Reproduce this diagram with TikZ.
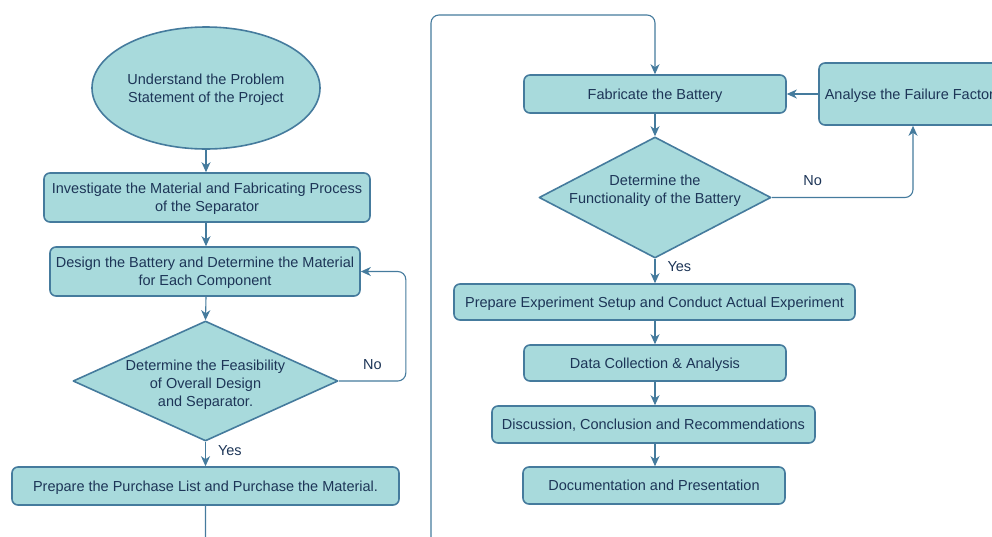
\documentclass[tikz,border=0pt]{standalone}
\usepackage{fontspec}
\setmainfont{Liberation Sans}
\usetikzlibrary{arrows.meta,shapes.geometric}

\definecolor{boxfill}{HTML}{A8DADC}
\definecolor{boxline}{HTML}{457B9D}
\definecolor{boxtext}{HTML}{1D3557}

\tikzset{
  stepbox/.style={draw=boxline, fill=boxfill, line width=1.6pt, rounded corners=6pt,
    text=boxtext, align=center, inner sep=0pt, text depth=0pt,
    font=\fontsize{14.5}{18}\selectfont},
  startbox/.style={ellipse, draw=boxline, fill=boxfill, line width=1.6pt,
    text=boxtext, align=center, inner sep=0pt, text depth=0pt,
    font=\fontsize{14.5}{18}\selectfont},
  decision/.style={diamond, draw=boxline, fill=boxfill, line width=1.6pt, inner sep=0pt,
    line join=round},
  decisiontext/.style={text=boxtext, align=center, font=\fontsize{14.5}{18}\selectfont},
  answer/.style={text=boxtext, inner sep=2pt, font=\fontsize{14.5}{18}\selectfont}
}

\begin{document}
\begin{tikzpicture}[x=1pt, y=-1pt, >={Stealth[length=10pt,width=9pt,inset=3pt]}]
  \useasboundingbox (0,0) rectangle (992,536);
  \clip (0,0) rectangle (992,536);

  % left column
  \node [startbox, minimum width=228, minimum height=122] (problem) at (206,88)
    {Understand the Problem\\Statement of the Project};
  \node [stepbox, minimum width=326, minimum height=49] (material) at (207,197.5)
    {Investigate the Material and Fabricating Process\\of the Separator};
  \node [stepbox, minimum width=310, minimum height=49] (design) at (205,271.5)
    {Design the Battery and Determine the Material\\for Each Component};
  \node [decision, minimum width=265, minimum height=120,
    label={[decisiontext, yshift=-3.5pt]center:{Determine the Feasibility\\of Overall Design\\and Separator.}}]
    (feasible) at (205.5,381) {};
  \node [stepbox, minimum width=387, minimum height=38] (purchase) at (205.5,486)
    {Prepare the Purchase List and Purchase the Material.};

  % right column
  \node [stepbox, minimum width=262, minimum height=38] (fabricate) at (655,94)
    {Fabricate the Battery};
  \node [stepbox, minimum width=188, minimum height=62] (failure) at (913,94)
    {Analyse the Failure Factors};
  \node [decision, minimum width=232, minimum height=121,
    label={[decisiontext, yshift=6.5pt]center:{Determine the\\Functionality of the Battery}}]
    (works) at (655,197.5) {};
  \node [stepbox, minimum width=401, minimum height=36] (experiment) at (654.5,302)
    {Prepare Experiment Setup and Conduct Actual Experiment};
  \node [stepbox, minimum width=262, minimum height=36] (data) at (655,363)
    {Data Collection \& Analysis};
  \node [stepbox, minimum width=323, minimum height=37] (discussion) at (653.5,424.5)
    {Discussion, Conclusion and Recommendations};
  \node [stepbox, minimum width=262, minimum height=37] (report) at (654,485.5)
    {Documentation and Presentation};

  \begin{scope}[draw=boxline, line width=1.1pt]
    \draw [->] (problem.south) -- (problem.south |- material.north);
    \draw [->] (problem.south |- material.south) -- (problem.south |- design.north);
    \draw [->] (problem.south |- design.south) -- (feasible.north);
    \draw [->, rounded corners=8pt] (feasible.east)
      -- node [answer, anchor=south, yshift=9pt] {No} ++(67,0) |- (design.east);
    \draw [->] (feasible.south)
      -- node [answer, anchor=west, pos=0.35, xshift=10pt] {Yes} (feasible.south |- purchase.north);
    % back round to the top of the right column
    \draw [->, rounded corners=8pt] (feasible.south |- purchase.south) -- ++(0,50)
      -| (431,15) -| (fabricate.north);
    \draw [->] (fabricate.south) -- (works.north);
    \draw [->] (failure) -- (fabricate);
    \draw [->, rounded corners=8pt] (works.east)
      -- node [answer, anchor=south, pos=0.29, yshift=9pt] {No} (works.east -| failure.south)
      -- (failure.south);
    \draw [->] (works.south)
      -- node [answer, anchor=west, pos=0.3, xshift=10pt] {Yes} (works.south |- experiment.north);
    \draw [->] (works.south |- experiment.south) -- (works.south |- data.north);
    \draw [->] (works.south |- data.south) -- (works.south |- discussion.north);
    \draw [->] (works.south |- discussion.south) -- (works.south |- report.north);
  \end{scope}
\end{tikzpicture}
\end{document}
